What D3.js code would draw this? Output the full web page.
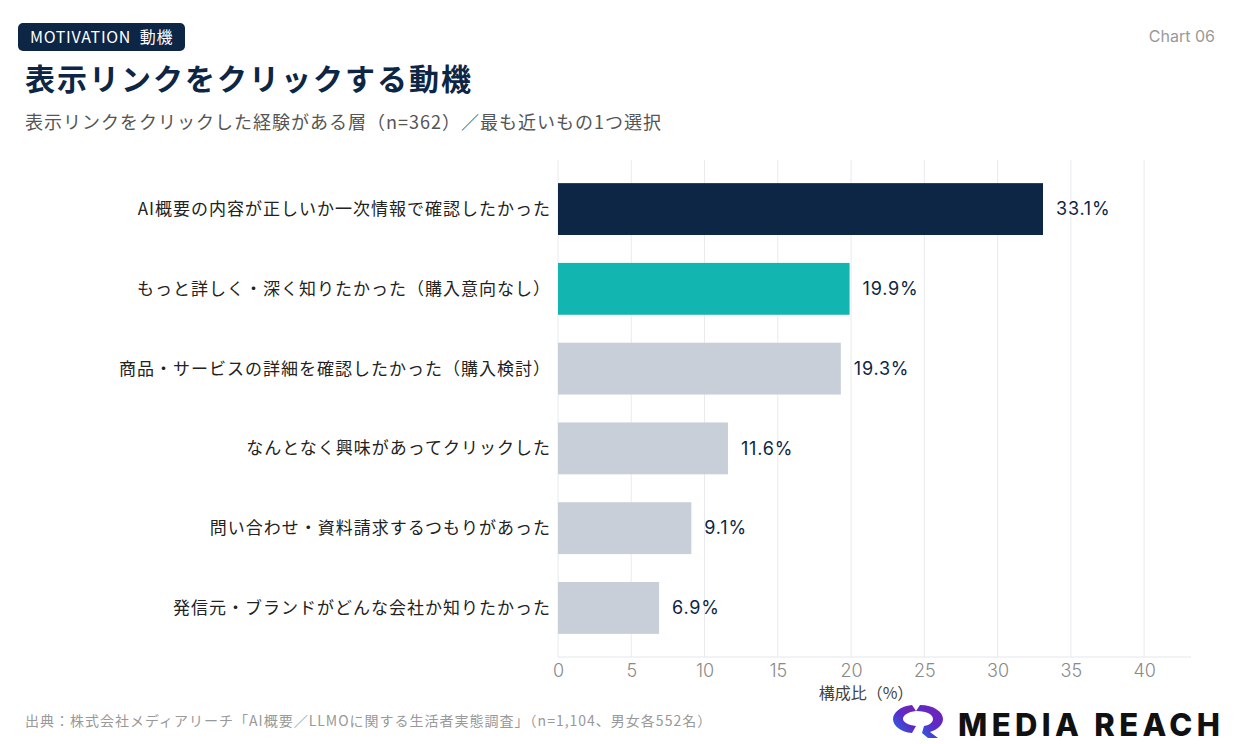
<!DOCTYPE html>
<html lang="ja">
<head>
<meta charset="utf-8">
<title>表示リンクをクリックする動機</title>
<script src="https://cdn.jsdelivr.net/npm/d3@7"></script>
<style>
  body { margin: 0; background: #fff; }
  svg { display: block; font-family: "Noto Sans CJK JP", "Noto Sans", sans-serif; }
  .num { font-family: Inter, "Noto Sans CJK JP", sans-serif; }
</style>
</head>
<body>
<div id="vis"></div>
<script>
// data
var categories = [
  "AI概要の内容が正しいか一次情報で確認したかった",
  "もっと詳しく・深く知りたかった（購入意向なし）",
  "商品・サービスの詳細を確認したかった（購入検討）",
  "なんとなく興味があってクリックした",
  "問い合わせ・資料請求するつもりがあった",
  "発信元・ブランドがどんな会社か知りたかった"
];
var values = [33.1, 19.9, 19.3, 11.6, 9.1, 6.9];
var barColors = ["#0d2645", "#13b5b1", "#c8cfd8", "#c8cfd8", "#c8cfd8", "#c8cfd8"];
var xTicks = [0, 5, 10, 15, 20, 25, 30, 35, 40];

var W = 1240, H = 744;
var svg = d3.select("#vis").append("svg").attr("width", W).attr("height", H);

// header
svg.append("rect").attr("x", 18).attr("y", 23).attr("width", 167).attr("height", 28)
  .attr("rx", 5).attr("fill", "#0d2645");
svg.append("text").attr("x", 30).attr("y", 43).attr("fill", "#fff")
  .attr("font-size", 16).attr("letter-spacing", 0.7).attr("xml:space", "preserve")
  .text("MOTIVATION  動機");
svg.append("text").attr("x", 25).attr("y", 90).attr("fill", "#0d2645")
  .attr("font-size", 30).attr("font-weight", 700).attr("letter-spacing", 2)
  .text("表示リンクをクリックする動機");
svg.append("text").attr("x", 25).attr("y", 129).attr("fill", "#555")
  .attr("font-size", 18).attr("letter-spacing", 1)
  .text("表示リンクをクリックした経験がある層（n=362）／最も近いもの1つ選択");
svg.append("text").attr("class", "num").attr("x", 1215).attr("y", 42).attr("fill", "#999")
  .attr("font-size", 16).attr("text-anchor", "end").text("Chart 06");

// scales
var x = d3.scaleLinear().domain([0, 43.2]).range([558, 1191]);
var y = d3.scaleBand().domain(categories).range([160, 657]).paddingInner(0.35).paddingOuter(0.29);

// grid
svg.append("g").selectAll("line").data(xTicks).enter().append("line")
  .attr("x1", function(d) { return x(d); }).attr("x2", function(d) { return x(d); })
  .attr("y1", 160).attr("y2", 657)
  .attr("stroke", "#e8eaee").attr("stroke-width", 1);

// bars
svg.append("g").selectAll("rect").data(values).enter().append("rect")
  .attr("x", x(0))
  .attr("y", function(d, i) { return y(categories[i]); })
  .attr("width", function(d) { return x(d) - x(0); })
  .attr("height", y.bandwidth())
  .attr("fill", function(d, i) { return barColors[i]; });

// value labels
svg.append("g").selectAll("text").data(values).enter().append("text")
  .attr("class", "num")
  .attr("x", function(d) { return x(d) + 13; })
  .attr("y", function(d, i) { return y(categories[i]) + y.bandwidth() / 2; })
  .attr("dy", "0.35em")
  .attr("font-size", 18).attr("letter-spacing", 0.8).attr("fill", "#0d2645")
  .text(function(d) { return d.toFixed(1) + "%"; });

// category labels
svg.append("g").selectAll("text").data(categories).enter().append("text")
  .attr("x", 551)
  .attr("y", function(d) { return y(d) + y.bandwidth() / 2; })
  .attr("dy", "0.35em")
  .attr("text-anchor", "end")
  .attr("font-size", 17).attr("letter-spacing", 1).attr("fill", "#222")
  .text(function(d) { return d; });

// x axis
var xAxis = svg.append("g").attr("transform", "translate(0,657)")
  .call(d3.axisBottom(x).tickValues(xTicks).tickSize(0).tickPadding(7));
xAxis.select(".domain").attr("stroke", "#e3e6ec").attr("d", "M558,0H1191");
xAxis.selectAll("text").attr("font-size", 18).attr("fill", "#8a8a8a")
  .attr("font-family", "Inter, sans-serif").attr("font-weight", 300);

svg.append("text").attr("x", 866).attr("y", 699).attr("text-anchor", "middle")
  .attr("font-size", 16).attr("fill", "#444").text("構成比（%）");

// source
svg.append("text").attr("x", 25).attr("y", 726).attr("font-size", 14).attr("letter-spacing", 1)
  .attr("fill", "#999")
  .text("出典：株式会社メディアリーチ「AI概要／LLMOに関する生活者実態調査」（n=1,104、男女各552名）");

// logo
var defs = svg.append("defs");
var grad = defs.append("linearGradient").attr("id", "lg").attr("x1", "0").attr("y1", "1").attr("x2", "1").attr("y2", "0");
grad.append("stop").attr("offset", "0").attr("stop-color", "#1e6fe0");
grad.append("stop").attr("offset", "0.5").attr("stop-color", "#5b2bc9");
grad.append("stop").attr("offset", "1").attr("stop-color", "#7a1fb0");
var logo = svg.append("g").attr("transform", "translate(918,719)");
logo.append("path")
  .attr("d", "M-6,-14 C-18,-13 -25,-6 -25,0 C-25,7 -17,13 -6,14 L-2,7 C-10,6 -15,3 -15,0 C-15,-4 -10,-7 -2,-8 Z")
  .attr("fill", "url(#lg)");
logo.append("path")
  .attr("d", "M2,-14 C16,-14 25,-7 25,0 C25,6 19,11 12,13 L20,19 L10,19 L4,14 L6,7 C12,6 15,3 15,0 C15,-4 10,-8 -2,-8 Z")
  .attr("fill", "url(#lg)");
svg.append("text").attr("x", 958).attr("y", 736).attr("font-family", "Inter, 'DejaVu Sans', sans-serif")
  .attr("font-size", 31).attr("font-weight", 800).attr("fill", "#111").attr("textLength", 262)
  .text("MEDIA REACH");
</script>
</body>
</html>
